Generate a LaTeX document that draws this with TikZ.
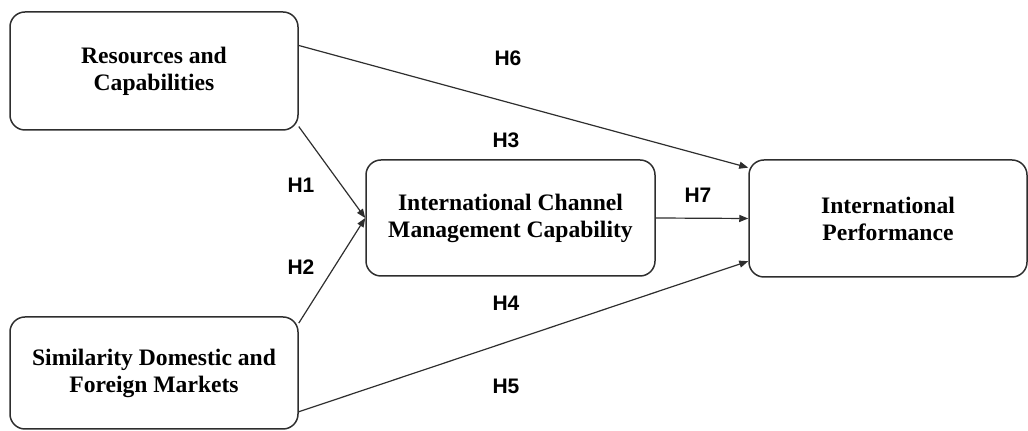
\documentclass[tikz,border=0pt]{standalone}
\usepackage{fontspec}
\setmainfont{Liberation Serif}
\newfontfamily\hypfont{Liberation Sans}
\usetikzlibrary{arrows.meta,positioning}
\definecolor{boxline}{HTML}{2E2E2E}

\begin{document}
\begin{tikzpicture}[
    x=0.5pt, y=-0.5pt,
    box/.style={rounded corners=7.5pt, draw=boxline, line width=0.75pt, align=center, inner sep=0pt, font=\fontsize{11.8}{13.5}\selectfont\bfseries, minimum width=144pt, minimum height=59pt},
    hyp/.style={font=\hypfont\fontsize{10.5}{12}\selectfont\bfseries},
    arrow/.style={-{Triangle[length=4.5pt,width=3.5pt]}, line width=0.6pt, draw=boxline}
  ]
    \useasboundingbox (0,0) rectangle (1028,431);

    \node[box] (res) at (154,71) {Resources and\\Capabilities};
    \node[box, minimum height=56pt] (sim) at (154,373) {Similarity Domestic and\\Foreign Markets};
    \node[box, minimum width=144.5pt, minimum height=58pt] (icmc) at (510.5,218) {International Channel\\Management Capability};
    \node[box, minimum width=139pt, minimum height=58.5pt] (perf) at (888,218.5) {International\\Performance};

    \node[hyp] (h6) at (508,58) {H6};
    \node[hyp] (h3) at (506,140) {H3};
    \node[hyp] (h1) at (301,185) {H1};
    \node[hyp] (h2) at (301,267) {H2};
    \node[hyp] (h7) at (698,195) {H7};
    \node[hyp] (h4) at (506,303) {H4};
    \node[hyp] (h5) at (506,386) {H5};

    \draw[arrow] (res.10) -- (perf.160);
    \draw[arrow] (res.-21) -- (icmc.west);
    \draw[arrow] (sim.19) -- (icmc.west);
    \draw[arrow] (icmc.east) -- (perf.west);
    \draw[arrow] (sim.-15.5) -- (perf.197);
\end{tikzpicture}
\end{document}
